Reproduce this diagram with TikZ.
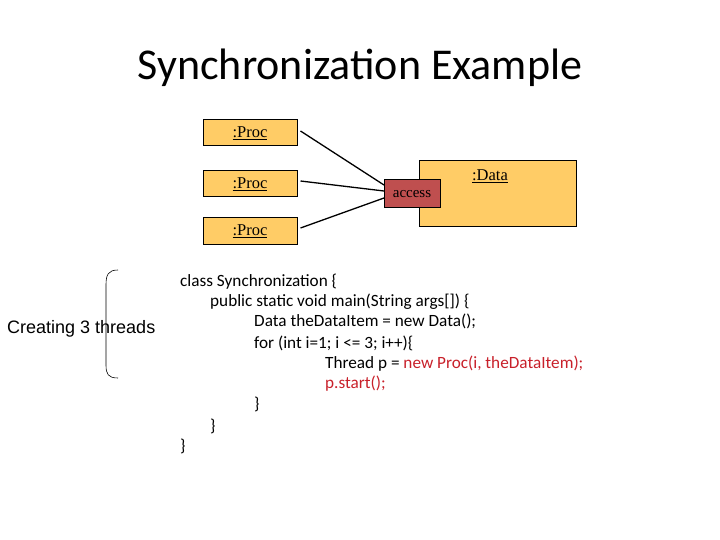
\documentclass[tikz,border=0pt]{standalone}
\usepackage{fontspec}
\setmainfont{Carlito}
\newfontfamily\arialf{Liberation Sans}
\newfontfamily\timesf{Liberation Serif}
\definecolor{boxfill}{HTML}{FFCC66}
\definecolor{accfill}{HTML}{BF4F4F}
\definecolor{codered}{HTML}{C8202A}
\begin{document}
\begin{tikzpicture}[x=1pt,y=-1pt,
  procbox/.style={draw,line width=1pt,fill=boxfill,minimum width=94pt,minimum height=26pt,inner sep=0pt,font=\timesf\fontsize{16.5}{16}\selectfont},
  conn/.style={line width=1.3pt},
  code/.style={anchor=base west,inner sep=0pt,font=\fontsize{17.2}{17}\selectfont}]
\useasboundingbox (0,0) rectangle (720,540);
\node[font=\fontsize{44}{44}\selectfont] (title) at (360,68) {Synchronization Example};
\node[procbox] (p1) at (250,133) {\underline{:Proc}};
\node[procbox] (p2) at (250,184) {\underline{:Proc}};
\node[procbox] (p3) at (250,231) {\underline{:Proc}};
\node[draw,line width=1pt,fill=boxfill,minimum width=157pt,minimum height=66pt,inner sep=0pt] (data) at (497.5,194) {};
\node[font=\timesf\fontsize{16.5}{16}\selectfont] (dl) at (490,176) {\underline{:Data}};
\node[draw,line width=1pt,fill=accfill,minimum width=56pt,minimum height=28pt,inner sep=0pt,font=\timesf\fontsize{15}{15}\selectfont] (acc) at (412,194) {access};
\coordinate (a1) at (384,185);
\coordinate (a2) at (384,191);
\coordinate (a3) at (384,198);
\draw[conn] (p1.east)++(3,-2) -- (a1);
\draw[conn] (p2.east)++(3,-3) -- (a2);
\draw[conn] (p3.east)++(3,-3) -- (a3);
\draw[line width=0.6pt] (118,270) .. controls (108,270) and (106,275) .. (106,285) -- (106,365) .. controls (106,374) and (108,378) .. (118,378);
\node[anchor=base west,inner sep=0pt,font=\arialf\fontsize{18}{18}\selectfont] (lab) at (7,333) {Creating 3 threads};
\node[code] (c1) at (180,286) {class Synchronization \{};
\node[code] (c2) at (210,306) {public static void main(String args[]) \{};
\node[code] (c3) at (254,326) {Data theDataItem = new Data();};
\node[code] (c4) at (254,348) {for (int i=1; i <= 3; i++)\{};
\node[code] (c5) at (325,368) {Thread p = \textcolor{codered}{new Proc(i, theDataItem);}};
\node[code,text=codered] (c6) at (325,388) {p.start();};
\node[code] (c7) at (254,409) {\}};
\node[code] (c8) at (210,431) {\}};
\node[code] (c9) at (180,451) {\}};
\end{tikzpicture}
\end{document}
